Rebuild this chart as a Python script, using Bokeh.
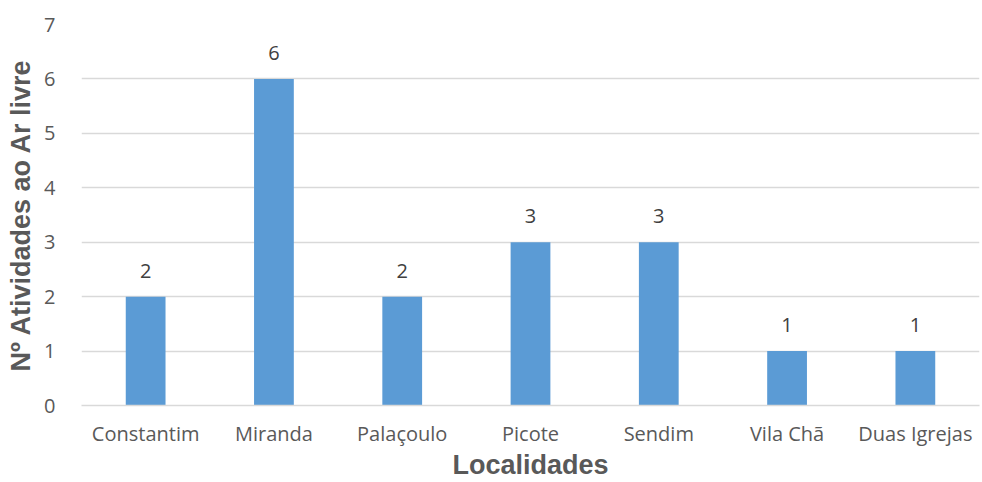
from bokeh.plotting import figure
from bokeh.models import ColumnDataSource, LabelSet, Range1d, FixedTicker
from bokeh.core.properties import value
from bokeh.embed import file_html
from bokeh.resources import INLINE

categories = ["Constantim", "Miranda", "Palaçoulo", "Picote", "Sendim", "Vila Chã", "Duas Igrejas"]
values = [2, 6, 2, 3, 3, 1, 1]
y_ticks = [0, 1, 2, 3, 4, 5, 6, 7]

src = ColumnDataSource(dict(cat=categories, val=values, lab=[str(v) for v in values]))

p = figure(x_range=categories, y_range=Range1d(0, 7), width=980, height=482,
           output_backend="svg", toolbar_location=None,
           min_border_left=81, min_border_right=1, min_border_top=24, min_border_bottom=77)
p.outline_line_color = None
p.vbar(x="cat", top="val", width=0.31, source=src, fill_color="#5B9BD5", line_color=None)

labels = LabelSet(x="cat", y="val", text="lab", source=src, text_align="center",
                  text_baseline="alphabetic", y_offset=19, text_font_size="20px",
                  text_color="#404040", text_font=value("Open Sans"))
p.add_layout(labels)

p.xgrid.grid_line_color = None
p.ygrid.grid_line_color = "#d9d9d9"
p.ygrid.grid_line_width = 1.3
p.yaxis.ticker = FixedTicker(ticks=y_ticks)
p.yaxis.axis_line_color = None
p.yaxis.major_tick_line_color = None
p.yaxis.minor_tick_line_color = None
p.xaxis.axis_line_color = "#d9d9d9"
p.xaxis.axis_line_width = 1.3
p.xaxis.major_tick_line_color = None
p.xaxis.minor_tick_line_color = None
for ax in (p.xaxis, p.yaxis):
    ax.major_label_text_font = "Open Sans"
    ax.major_label_text_font_size = "20px"
    ax.major_label_text_color = "#595959"
    ax.axis_label_text_font = "Liberation Sans"
    ax.axis_label_text_font_style = "bold"
    ax.axis_label_text_font_size = "27px"
    ax.axis_label_text_color = "#595959"
p.yaxis.major_label_standoff = 20
p.xaxis.major_label_standoff = 8
p.yaxis.axis_label = "Nº Atividades ao Ar livre"
p.xaxis.axis_label = "Localidades"
p.xaxis.axis_label_standoff = 0
p.yaxis.axis_label_standoff = 5

open("out.html", "w").write(file_html(p, INLINE))
